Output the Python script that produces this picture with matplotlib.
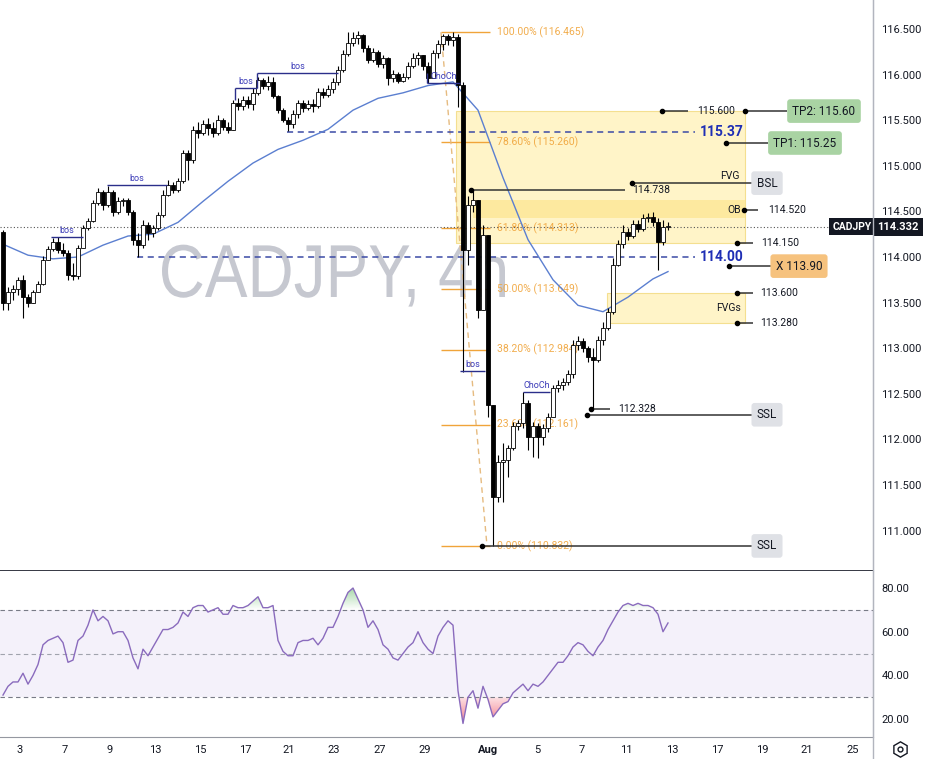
import numpy as np
import matplotlib.pyplot as plt
from matplotlib.patches import Rectangle, PathPatch
from matplotlib.lines import Line2D
from matplotlib.path import Path
from matplotlib.textpath import TextPath
from matplotlib.font_manager import FontProperties
from matplotlib.colors import LinearSegmentedColormap
from matplotlib.transforms import blended_transform_factory, Affine2D, IdentityTransform

plt.rcParams['font.family'] = ['Roboto', 'DejaVu Sans']

# ---- data (4h candles) ----
open0 = 114.27
closes = [
    113.50, 113.62, 113.65, 113.75, 113.56, 113.50, 113.62, 113.70, 113.97, 114.09,
    114.16, 114.08, 114.04, 113.80, 113.79, 114.10, 114.32, 114.39, 114.59, 114.71,
    114.57, 114.71, 114.49, 114.61, 114.62, 114.49, 114.19, 114.13, 114.35, 114.26,
    114.32, 114.46, 114.68, 114.79, 114.73, 114.83, 115.14, 115.06, 115.39, 115.36,
    115.46, 115.41, 115.36, 115.50, 115.43, 115.39, 115.69, 115.66, 115.72, 115.68,
    115.80, 115.94, 115.88, 115.92, 115.77, 115.61, 115.50, 115.46, 115.57, 115.69,
    115.63, 115.68, 115.66, 115.81, 115.78, 115.84, 115.92, 116.05, 116.23, 116.35,
    116.40, 116.43, 116.29, 116.16, 116.25, 116.12, 116.18, 115.96, 116.01, 115.93,
    115.97, 116.09, 116.18, 116.21, 116.09, 115.96, 116.24, 116.34, 116.42, 116.38,
    116.41, 115.89, 114.08, 114.57, 114.63, 113.42, 114.24, 112.38, 111.37, 111.75,
    111.77, 111.91, 112.15, 112.18, 112.40, 112.03, 112.15, 112.03, 112.12, 112.25,
    112.56, 112.60, 112.63, 112.72, 113.04, 113.08, 113.00, 112.90, 112.87, 113.09,
    113.22, 113.40, 113.91, 114.14, 114.27, 114.23, 114.36, 114.31, 114.43, 114.44,
    114.38, 114.16, 114.33, 114.332,
]
highs = [
    114.30, 113.67, 113.69, 113.78, 113.80, 113.59, 113.64, 113.74, 114.01, 114.12,
    114.21, 114.22, 114.15, 114.08, 113.93, 114.13, 114.35, 114.43, 114.63, 114.76,
    114.73, 114.78, 114.73, 114.66, 114.65, 114.65, 114.52, 114.26, 114.41, 114.38,
    114.35, 114.49, 114.73, 114.84, 114.82, 114.87, 115.17, 115.17, 115.44, 115.48,
    115.50, 115.52, 115.48, 115.56, 115.52, 115.48, 115.72, 115.74, 115.77, 115.77,
    115.85, 115.97, 115.96, 115.98, 115.97, 115.78, 115.63, 115.54, 115.61, 115.72,
    115.72, 115.72, 115.73, 115.85, 115.85, 115.89, 115.96, 116.09, 116.27, 116.47,
    116.47, 116.48, 116.45, 116.32, 116.29, 116.27, 116.21, 116.19, 116.05, 116.03,
    116.02, 116.14, 116.24, 116.25, 116.21, 116.14, 116.27, 116.38, 116.45, 116.45,
    116.465, 116.45, 115.92, 114.67, 114.738, 114.63, 114.35, 114.24, 112.38, 111.83,
    111.96, 111.94, 112.19, 112.21, 112.52, 112.43, 112.19, 112.18, 112.17, 112.29,
    112.60, 112.65, 112.67, 112.76, 113.09, 113.13, 113.11, 113.02, 113.00, 113.13,
    113.29, 113.44, 113.99, 114.19, 114.35, 114.32, 114.41, 114.41, 114.47, 114.48,
    114.49, 114.43, 114.41, 114.38,
]
lows = [
    113.42, 113.42, 113.53, 113.58, 113.33, 113.45, 113.50, 113.62, 113.69, 113.97,
    114.07, 114.04, 114.01, 113.75, 113.75, 113.76, 114.10, 114.30, 114.38, 114.57,
    114.52, 114.55, 114.45, 114.47, 114.56, 114.46, 114.13, 114.00, 114.10, 114.19,
    114.22, 114.30, 114.44, 114.67, 114.70, 114.71, 114.81, 114.84, 115.03, 115.30,
    115.34, 115.34, 115.32, 115.34, 115.39, 115.36, 115.39, 115.61, 115.61, 115.63,
    115.61, 115.78, 115.84, 115.83, 115.74, 115.58, 115.48, 115.38, 115.41, 115.52,
    115.59, 115.61, 115.59, 115.63, 115.74, 115.75, 115.80, 115.89, 116.03, 116.20,
    116.31, 116.34, 116.25, 116.13, 116.14, 116.08, 116.07, 115.89, 115.92, 115.91,
    115.92, 115.95, 116.07, 116.11, 116.05, 115.91, 115.96, 116.18, 116.27, 116.32,
    116.31, 115.64, 112.74, 113.91, 114.49, 113.33, 113.42, 112.25, 110.832, 111.31,
    111.31, 111.59, 111.88, 112.10, 112.12, 111.88, 111.81, 111.80, 111.94, 112.08,
    112.25, 112.52, 112.54, 112.60, 112.67, 112.98, 112.96, 112.85, 112.328, 112.85,
    113.04, 113.20, 113.37, 113.90, 114.10, 114.19, 114.21, 114.27, 114.29, 114.38,
    114.34, 113.86, 114.13, 114.30,
]
# moving average, one value every 5 candles (+ last candle)
ma_values = [114.14, 114.02, 113.98, 114.00, 114.13, 114.23, 114.25, 114.38, 114.61, 114.83,
             115.03, 115.18, 115.28, 115.40, 115.61, 115.74, 115.80, 115.88, 115.92, 115.61,
             114.87, 114.19, 113.75, 113.47, 113.40, 113.56, 113.76, 113.84]
rsi_values = [
    31, 35, 37, 37, 41, 36, 40, 45, 54, 56,
    57, 58, 55, 46, 47, 56, 58, 63, 70, 65,
    67, 65, 59, 60, 60, 56, 48, 43, 52, 49,
    53, 57, 61, 61, 62, 64, 69, 67, 71, 72,
    72, 69, 70, 71, 68, 68, 72, 71, 71, 72,
    74, 76, 71, 71, 72, 56, 51, 49, 49, 55,
    56, 56, 57, 54, 57, 62, 62, 67, 73, 78,
    80, 75, 70, 62, 65, 61, 54, 52, 48, 47,
    50, 53, 55, 60, 55, 52, 50, 58, 62, 65,
    63, 33, 18, 30, 33, 25, 35, 29, 21, 24,
    27, 28, 32, 34, 36, 33, 36, 35, 37, 40,
    43, 46, 46, 49, 53, 55, 54, 51, 49, 53,
    56, 61, 65, 69, 72, 73, 72, 73, 72, 72,
    71, 68, 60, 64,
]

date_labels = ["3", "7", "9", "13", "15", "17", "21", "23", "27", "29", "Aug",
               "5", "7", "11", "13", "17", "19", "21", "25"]
fib_levels = [116.465, 115.260, 114.313, 113.649, 112.984, 112.161, 110.832]
fib_names = ["100.00%", "78.60%", "61.80%", "50.00%", "38.20%", "23.60%", "0.00%"]
last_price = closes[-1]

# ---- layout ----
W, H = 925, 759
fig = plt.figure(figsize=(W / 100, H / 100), dpi=100)
ax = fig.add_axes([0, 1 - 571 / H, 873 / W, 571 / H])
axr = fig.add_axes([0, 1 - 737 / H, 873 / W, (737 - 571) / H])
date_pos = [3.4, 12.4, 21.4, 30.4, 39.4, 48.4, 57.2, 66.2, 75.4, 84.4, 97,
            106.8, 115.8, 124.6, 133.8, 142.8, 151.8, 160.8, 170]

n = len(closes)
x = np.arange(n)
c = np.array(closes)
o = np.array([open0] + closes[:-1])
up = c >= o

# watermark, squeezed horizontally to the narrow look of the original
tp = TextPath((0, 0), "CADJPY, 4h", size=75, prop=FontProperties(family="Liberation Sans"))
ext = tp.get_extents()
wm = Affine2D().translate(-ext.x0, 0).scale(343 / ext.width, 1).translate(162, H - 297)
ax.add_artist(PathPatch(wm.transform_path(tp), fc="#c6c8d0", ec="none",
                        transform=IdentityTransform(), zorder=0.5))

# zones
ax.add_patch(Rectangle((90.6, 114.15), 148.4 - 90.6, 115.60 - 114.15,
                       fc="#fff4c8", ec="#f4df90", lw=0.8, zorder=1))
ax.add_patch(Rectangle((94, 114.43), 148.4 - 94, 114.63 - 114.43,
                       fc="#fde99f", ec="none", zorder=1.1))
ax.add_patch(Rectangle((120.8, 113.28), 148.4 - 120.8, 113.60 - 113.28,
                       fc="#fff4c8", ec="#f4df90", lw=0.8, zorder=1))

# fib levels
fib_col = "#f0a43a"
for lvl, name in zip(fib_levels, fib_names):
    ax.hlines(lvl, 87.6, 97.4, color=fib_col, lw=1, zorder=2)
    ax.text(98.8, lvl, f"{name} ({lvl:.3f})", color=fib_col, fontsize=7.5,
            va="center", ha="left", alpha=0.9, zorder=2)
ax.plot([87.6, 96.8], [fib_levels[0], fib_levels[-1]], color="#e6bb80",
        lw=1, ls=(0, (4, 3)), zorder=2)

# blue dashed levels
for lvl, x0 in [(115.37, 56.8), (114.00, 26.8)]:
    ax.hlines(lvl, x0, 138.4, color="#3b4aa6", lw=1.1, linestyles=(0, (4, 3)), zorder=2)
    ax.text(139.4, lvl, f"{lvl:.2f}", color="#1f2fb5", fontsize=10,
            fontweight="bold", va="center", ha="left", zorder=2)

# last price dotted line
ax.hlines(last_price, -0.6, 165.8, color="#555555", lw=0.8,
          linestyles=(0, (1, 2)), zorder=2)

# moving average
ma_x = list(range(0, n, 5)) + [n - 1]
ax.plot(ma_x, ma_values, color="#5b7fd0", lw=1, zorder=2.5)

# candles
ax.vlines(x, lows, highs, color="black", lw=0.8, zorder=3)
body = np.maximum(np.abs(c - o), 0.012)
ax.bar(x, body, bottom=np.minimum(o, c), width=0.62,
       color=np.where(up, "white", "black"), edgecolor="black", lw=0.6, zorder=4)

# structure marks (bos / ChoCh)
navy = "#2b2f8a"
marks = [("bos", 114.22, 9.6, 16), ("bos", 114.79, 20.8, 32.8),
         ("bos", 115.85, 46.4, 50.8), ("bos", 116.02, 50.8, 67),
         ("ChoCh", 115.91, 84.8, 91.4), ("bos", 112.75, 91.4, 96.4),
         ("ChoCh", 112.52, 104, 109.4)]
for label, lvl, x0, x1 in marks:
    ax.hlines(lvl, x0, x1, color=navy, lw=1, zorder=5)
    ax.text((x0 + x1) / 2, lvl + 0.02, label, color="#3a3ab8", fontsize=6.5,
            ha="center", va="bottom", zorder=5)
ax.vlines(84.8, 115.91, 116.02, color=navy, lw=1, zorder=5)
ax.vlines(46.4, 115.72, 115.85, color=navy, lw=1, zorder=5)
ax.vlines(50.8, 115.85, 116.02, color=navy, lw=1, zorder=5)

# right-side level annotations
dark = "#333333"


def level(y, x0, x1):
    ax.hlines(y, x0, x1, color=dark, lw=1.1, zorder=6)
    ax.plot([x0], [y], "o", color="black", ms=3, zorder=6)


def small(xx, y, s, ha="left"):
    ax.text(xx, y, s, fontsize=7.5, color="#131722", ha=ha, va="center", zorder=6)


def tag(xx, y, s, fc):
    ax.text(xx, y, s, fontsize=8.5, color="#131722", ha="center", va="center", zorder=7,
            bbox=dict(boxstyle="round,pad=0.45,rounding_size=0.25", fc=fc, ec="none"))


level(114.738, 93.6, 124.4)
small(125.8, 114.738, "114.738")
level(114.81, 125.8, 149.8)
tag(152.8, 114.81, "BSL", "#dfe1e6")

level(115.60, 131.8, 137)
small(138.8, 115.60, "115.600")
level(115.60, 148.4, 156.8)
tag(164.2, 115.60, "TP2: 115.60", "#a9d3a3")

level(115.25, 144.6, 153)
tag(160.4, 115.25, "TP1: 115.25", "#a9d3a3")

small(147.4, 114.89, "FVG", ha="right")
small(147.6, 114.52, "OB", ha="right")
level(114.52, 148.2, 151)
small(153, 114.52, "114.520")

level(114.15, 146.8, 150)
small(151.6, 114.15, "114.150")

level(113.90, 145.2, 153.6)
tag(159.2, 113.90, "X 113.90", "#f6c27e")

level(113.60, 146.8, 150)
small(151.4, 113.60, "113.600")
small(147.6, 113.44, "FVGs", ha="right")
level(113.28, 146.8, 150)
small(151.4, 113.28, "113.280")

level(112.328, 117.6, 121.4)
small(123, 112.328, "112.328")
level(112.27, 116.8, 149.8)
tag(152.8, 112.27, "SSL", "#dfe1e6")

level(110.832, 95.8, 149.8)
tag(152.8, 110.832, "SSL", "#dfe1e6")

# price tags
ax.text(169.9, last_price, "CADJPY", fontsize=7.5, color="white", fontweight="bold",
        ha="center", va="center", zorder=8,
        bbox=dict(boxstyle="square,pad=0.35", fc="#131722", ec="none"))
trans = blended_transform_factory(ax.transAxes, ax.transData)
ax.text(1.0286, last_price, "114.332", transform=trans, fontsize=8, color="white",
        fontweight="bold", ha="center", va="center", zorder=8,
        bbox=dict(boxstyle="square,pad=0.35", fc="#131722", ec="none"))

# main axes styling
ax.set_xlim(-0.6, 174)
ax.set_ylim(110.557, 116.818)
ax.yaxis.tick_right()
yt = np.arange(111.0, 116.51, 0.5)
ax.set_yticks(yt)
ax.set_yticklabels([f"{v:.3f}" for v in yt])
ax.tick_params(axis="y", length=0, pad=6, labelsize=8, labelcolor="#131722")
ax.set_xticks([])
for s in ["top", "left"]:
    ax.spines[s].set_visible(False)
ax.spines["right"].set_color("#b2b5be")
ax.spines["bottom"].set_color("#131722")
ax.spines["bottom"].set_linewidth(1.2)

# RSI panel
r = np.array(rsi_values, dtype=float)
axr.axhspan(30, 70, color="#7e57c2", alpha=0.08, lw=0)
for lvl, col in [(70, "#787b86"), (50, "#a0a3ad"), (30, "#787b86")]:
    axr.axhline(lvl, color=col, lw=0.8, ls=(0, (4, 3)))

# gradient fills for overbought / oversold parts
grad = np.linspace(0, 1, 100).reshape(-1, 1)
for lim, cond, col, span in [(70, r > 70, (0.30, 0.69, 0.31), (70, 82)),
                             (30, r < 30, (0.94, 0.33, 0.40), (18, 30))]:
    poly = axr.fill_between(x, lim, r, where=cond, interpolate=True, color="none", lw=0)
    clip = Path.make_compound_path(*poly.get_paths())
    if lim == 70:
        cmap = LinearSegmentedColormap.from_list("g", [(*col, 0.0), (*col, 0.6)])
    else:
        cmap = LinearSegmentedColormap.from_list("r", [(*col, 0.75), (*col, 0.15)])
    img = axr.imshow(grad, cmap=cmap, extent=[-0.6, 174, span[0], span[1]],
                     origin="lower", aspect="auto", zorder=1)
    img.set_clip_path(clip, transform=axr.transData)

axr.plot(x, r, color="#8a6bbd", lw=1, zorder=2)
axr.set_xlim(-0.6, 174)
axr.set_ylim(11.8, 87.8)
axr.yaxis.tick_right()
axr.set_yticks([20, 40, 60, 80])
axr.set_yticklabels(["20.00", "40.00", "60.00", "80.00"])
axr.tick_params(axis="y", length=0, pad=6, labelsize=8, labelcolor="#131722")
axr.set_xticks(date_pos)
axr.set_xticklabels(date_labels)
axr.tick_params(axis="x", length=0, pad=6, labelsize=8, labelcolor="#131722")
axr.get_xticklabels()[10].set_fontweight("bold")
for s in ["top", "left"]:
    axr.spines[s].set_visible(False)
axr.spines["right"].set_color("#b2b5be")
axr.spines["bottom"].set_color("#9598a1")

# price axis line down to the bottom + settings icon
fig.add_artist(Line2D([873 / W, 873 / W], [0, 1], transform=fig.transFigure,
                      color="#b2b5be", lw=1))
fig.add_artist(Line2D([900 / W], [1 - 749 / H], transform=fig.transFigure, marker="h",
                      ms=11, mfc="none", mec="#131722", mew=1))
fig.add_artist(Line2D([900 / W], [1 - 749 / H], transform=fig.transFigure, marker="o",
                      ms=3.5, mfc="none", mec="#131722", mew=1))

fig.savefig("out.png", dpi=100, facecolor="white")
